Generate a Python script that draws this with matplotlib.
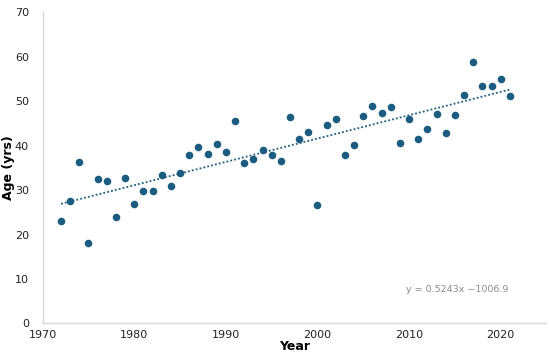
import numpy as np
import matplotlib.pyplot as plt

# data
years = list(range(1972, 2022))
ages = [23.0, 27.5, 36.4, 18.2, 32.4, 32.1, 23.9, 32.7, 26.9, 29.9,
        29.9, 33.3, 30.9, 33.9, 38.0, 39.6, 38.1, 40.3, 38.5, 45.5,
        36.0, 37.0, 39.1, 38.0, 36.6, 46.4, 41.6, 43.1, 26.6, 44.6,
        46.1, 37.8, 40.1, 46.7, 48.9, 47.3, 48.8, 40.7, 45.9, 41.6,
        43.7, 47.1, 42.8, 47.0, 51.5, 58.9, 53.4, 53.4, 55.0, 51.2]
x_ticks = [1970, 1980, 1990, 2000, 2010, 2020]
y_ticks = [0, 10, 20, 30, 40, 50, 60, 70]
trend_label = "y = 0.5243x \u22121006.9"

dot_color = "#1b5c80"

fig = plt.figure(figsize=(5.5, 3.61), dpi=100)
ax = fig.add_axes([0.0776, 0.104, 0.916, 0.862])

x = np.array(years)
y = np.array(ages)
ax.scatter(x, y, s=30, color=dot_color, zorder=3, linewidths=0)

# linear trendline
slope, intercept = np.polyfit(x, y, 1)
ax.plot(x, slope * x + intercept, linestyle=(0, (1, 1.2)), color=dot_color,
        linewidth=1.3, zorder=2)

ax.text(2020.8, 7.7, trend_label, fontsize=6.8, color="#8c8c8c", ha="right", va="center")

ax.set_xlim(1970, 2025)
ax.set_ylim(0, 70)
ax.set_xticks(x_ticks)
ax.set_yticks(y_ticks)
ax.tick_params(length=0, labelsize=8, colors="#222222")
ax.tick_params(axis="y", pad=10)
ax.tick_params(axis="x", pad=5)

for side in ["top", "right"]:
    ax.spines[side].set_visible(False)
for side in ["left", "bottom"]:
    ax.spines[side].set_color("#d9d9d9")
    ax.spines[side].set_linewidth(1.0)

ax.set_xlabel("Year", fontsize=9, fontweight="bold", labelpad=0)
ax.set_ylabel("Age (yrs)", fontsize=9, fontweight="bold", labelpad=0)

fig.savefig("out.png", dpi=100)
